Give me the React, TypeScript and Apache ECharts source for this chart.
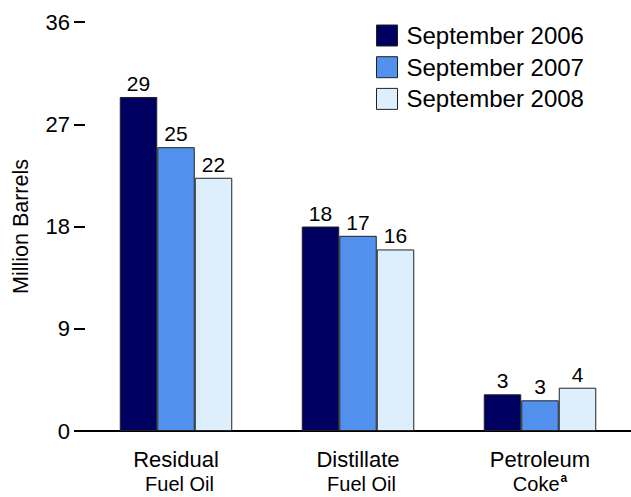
import React, { useEffect, useRef } from "react";
import * as echarts from "echarts";

const categories = ["Residual|Fuel Oil", "Distillate|Fuel Oil", "Petroleum|Coke"];
const seriesNames = ["September 2006", "September 2007", "September 2008"];
const sep2006 = [29.4, 18.0, 3.23];
const sep2007 = [24.98, 17.18, 2.7];
const sep2008 = [22.29, 15.98, 3.81];
const yTicks = [0, 9, 18, 27, 36];

const colors = ["#000060", "#5291EE", "#DDEEFC"];
const FONT = "'Liberation Sans', Arial, Helvetica, sans-serif";

export default function App() {
  const ref = useRef<HTMLDivElement>(null);
  useEffect(() => {
    if (!ref.current) return;
    const chart = echarts.init(ref.current, null, { renderer: "svg" });
    const data = [sep2006, sep2007, sep2008];
    chart.setOption({
      animation: false,
      textStyle: { fontFamily: FONT },
      grid: { left: 85, right: 0, top: 22, bottom: 66, containLabel: false },
      legend: {
        orient: "vertical",
        left: 376,
        top: 23.5,
        padding: 0,
        itemWidth: 21,
        itemHeight: 21,
        itemGap: 7.7,
        icon: "rect",
        data: seriesNames,
        textStyle: { fontSize: 24, color: "#000", fontFamily: FONT, padding: [0, 0, 0, 4] },
        itemStyle: { borderColor: "#222", borderWidth: 1 },
      },
      xAxis: {
        type: "category",
        data: categories,
        axisLine: { show: true, lineStyle: { color: "#000", width: 2 } },
        axisTick: { show: false },
        axisLabel: {
          margin: 15,
          interval: 0,
          color: "#000",
          formatter: (v: string) => {
            const [a, b] = v.split("|");
            if (b === "Coke") return `{a|${a}}\n{b|${b}}{sup|a}`;
            return `{a|${a}}\n{c|${b}}`;
          },
          rich: {
            a: { fontSize: 22, lineHeight: 26, fontFamily: FONT, color: "#000" },
            b: { fontSize: 20, lineHeight: 24, fontFamily: FONT, color: "#000" },
            c: { fontSize: 20, lineHeight: 24, fontFamily: FONT, color: "#000", padding: [0, 0, 0, 7] },
            sup: { fontSize: 12, lineHeight: 24, fontFamily: FONT, color: "#000", fontWeight: "bold", verticalAlign: "top", padding: [0, 0, 8, 1] },
          },
        },
      },
      yAxis: {
        type: "value",
        min: yTicks[0],
        max: yTicks[yTicks.length - 1],
        interval: 9,
        name: "Million Barrels",
        nameLocation: "middle",
        nameRotate: 90,
        nameGap: 53,
        nameTextStyle: { fontSize: 21.5, color: "#000", fontFamily: FONT },
        axisLine: { show: false },
        axisTick: { show: true, length: 11, lineStyle: { color: "#000", width: 2 } },
        splitLine: { show: false },
        axisLabel: { margin: 15, fontSize: 22, color: "#000", fontFamily: FONT },
      },
      series: seriesNames.map((name, i) => ({
        name,
        type: "bar",
        data: data[i],
        barWidth: 37.5,
        barGap: "0%",
        itemStyle: { color: colors[i], borderColor: "#222", borderWidth: 1 },
        label: {
          show: true,
          position: "top",
          distance: 3,
          fontSize: 21,
          color: "#000",
          fontFamily: FONT,
          formatter: (p: any) => String(Math.round(p.value)),
        },
      })),
    });
    return () => chart.dispose();
  }, []);
  return <div ref={ref} style={{ position: "fixed", left: 0, top: 0, width: 631, height: 497, background: "#fff" }} />;
}
